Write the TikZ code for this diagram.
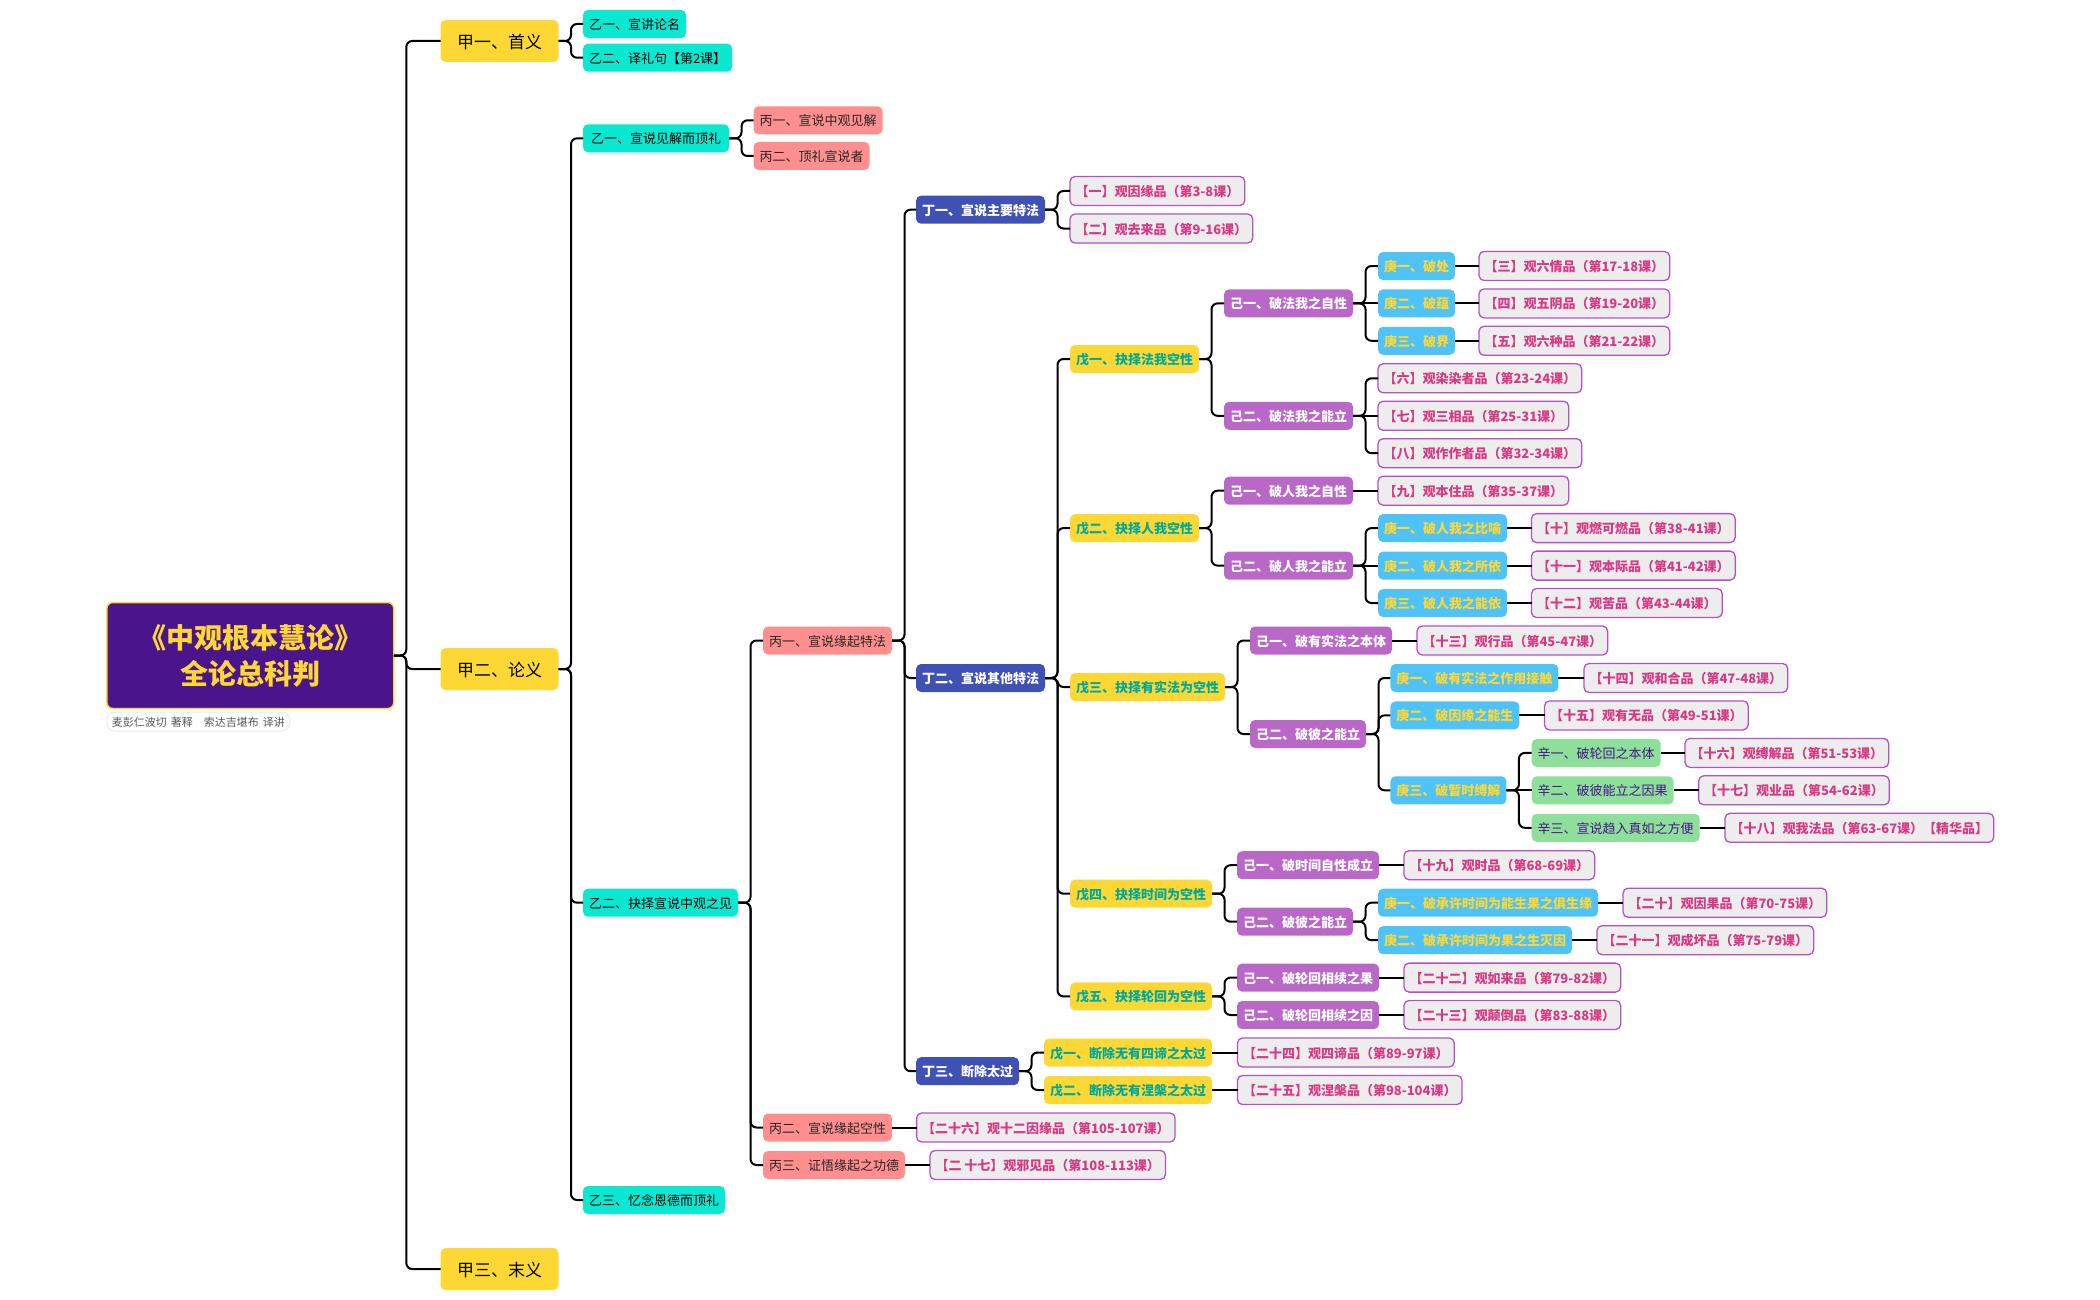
\documentclass[tikz,border=0pt]{standalone}
\usepackage{fontspec}
\setmainfont{Noto Sans CJK SC}
\definecolor{rootbg}{HTML}{4A148C}
\definecolor{gold}{HTML}{FDD835}
\definecolor{aqua}{HTML}{0BE8D2}
\definecolor{salmon}{HTML}{FF8F8F}
\definecolor{indigo}{HTML}{3F51B5}
\definecolor{violet}{HTML}{BA68C8}
\definecolor{sky}{HTML}{4FC3F7}
\definecolor{mint}{HTML}{8EDF99}
\definecolor{teal}{HTML}{00A99D}
\definecolor{leafline}{HTML}{B650C4}
\definecolor{leafink}{HTML}{D63A85}
\tikzset{
  item/.style={anchor=west, rounded corners=5pt, inner xsep=6pt, inner ysep=0pt, outer sep=0pt,
    minimum height=28pt, text height=12.5pt, text depth=1.5pt, font=\fontsize{13}{13}\selectfont},
  jia/.style={item, fill=gold, inner xsep=16.5pt, minimum height=42pt,
    text height=16pt, text depth=1pt, font=\fontsize{17}{17}\selectfont},
  yi/.style={item, fill=aqua},
  bing/.style={item, fill=salmon, text=black!85},
  ding/.style={item, fill=indigo, text=white, font=\fontsize{13}{13}\selectfont\bfseries},
  wu/.style={item, fill=gold, text=teal, font=\fontsize{13}{13}\selectfont\bfseries},
  ji/.style={item, fill=violet, text=white, font=\fontsize{13}{13}\selectfont\bfseries},
  geng/.style={item, fill=sky, text=gold, font=\fontsize{13}{13}\selectfont\bfseries},
  xin/.style={item, fill=mint, text=rootbg},
  pin/.style={item, fill=black!7, draw=leafline, line width=1.3pt, text=leafink, inner xsep=5.5pt, minimum height=29pt,
    font=\fontsize{13}{13}\selectfont\bfseries},
  link/.style={line width=2pt, rounded corners=6pt},
  flat/.style={line width=2pt}
}
\begin{document}
\begin{tikzpicture}[x=1pt,y=-1pt]
\useasboundingbox (0,0) rectangle (2100,1300);
% root
\node[item, anchor=center, fill=rootbg, draw=gold, line width=1.5pt, rounded corners=6pt, text=gold, align=center,
  minimum width=287pt, minimum height=106pt, text height=, text depth=, font=\fontsize{28}{36}\selectfont\bfseries]
  (root) at (250.3,655.5) {《中观根本慧论》\\全论总科判};
\node[item, fill=white, draw=black!8, line width=1pt, rounded corners=8pt, inner xsep=5pt, minimum height=19pt,
  text=black!65, text height=10pt, text depth=1pt, font=\fontsize{11}{11}\selectfont]
  (sub) at (106.8,721.5) {麦彭仁波切\hspace{4pt}著释\hspace{11pt}索达吉堪布\hspace{4pt}译讲};
% jia
\node[jia] (jia1) at (440.5,41) {甲一、首义};
\node[jia] (jia2) at (440.5,669) {甲二、论义};
\node[jia] (jia3) at (440.5,1269) {甲三、末义};
% yi
\node[yi] (yi11) at (583,24) {乙一、宣讲论名};
\node[yi] (yi12) at (583,57.7) {乙二、译礼句【第2课】};
\node[yi, minimum width=146pt] (yi21) at (583,138.3) {乙一、宣说见解而顶礼};
\node[yi] (yi22) at (583,902.7) {乙二、抉择宣说中观之见};
\node[yi] (yi23) at (583,1200) {乙三、忆念恩德而顶礼};
% bing
\node[bing] (bing1) at (753.5,120.3) {丙一、宣说中观见解};
\node[bing] (bing2) at (753.5,156) {丙二、顶礼宣说者};
\node[bing] (bing3) at (763,640.5) {丙一、宣说缘起特法};
\node[bing] (bing4) at (763,1127.5) {丙二、宣说缘起空性};
\node[bing] (bing5) at (763,1165) {丙三、证悟缘起之功德};
% ding
\node[ding] (ding1) at (916,209.7) {丁一、宣说主要特法};
\node[ding] (ding2) at (916,678) {丁二、宣说其他特法};
\node[ding] (ding3) at (916,1071.2) {丁三、断除太过};
% wu
\node[wu] (wu1) at (1070,359) {戊一、抉择法我空性};
\node[wu] (wu2) at (1070,528.1) {戊二、抉择人我空性};
\node[wu] (wu3) at (1070,687) {戊三、抉择有实法为空性};
\node[wu] (wu4) at (1070,893.7) {戊四、抉择时间为空性};
\node[wu] (wu5) at (1070,996.4) {戊五、抉择轮回为空性};
\node[wu] (wu6) at (1044,1052.5) {戊一、断除无有四谛之太过};
\node[wu] (wu7) at (1044,1090) {戊二、断除无有涅槃之太过};
% ji
\node[ji] (ji1) at (1224,303.4) {己一、破法我之自性};
\node[ji] (ji2) at (1224,415.8) {己二、破法我之能立};
\node[ji] (ji3) at (1224,490.7) {己一、破人我之自性};
\node[ji] (ji4) at (1224,565.6) {己二、破人我之能立};
\node[ji] (ji5) at (1250,640.5) {己一、破有实法之本体};
\node[ji] (ji6) at (1250,734) {己二、破彼之能立};
\node[ji] (ji7) at (1237,865.2) {己一、破时间自性成立};
\node[ji] (ji8) at (1237,921.7) {己二、破彼之能立};
\node[ji] (ji9) at (1237,977.6) {己一、破轮回相续之果};
\node[ji] (ji10) at (1237,1015) {己二、破轮回相续之因};
% geng
\node[geng] (geng1) at (1378,266) {庚一、破处};
\node[geng] (geng2) at (1378,303.4) {庚二、破蕴};
\node[geng] (geng3) at (1378,340.8) {庚三、破界};
\node[geng] (geng4) at (1378,528.1) {庚一、破人我之比喻};
\node[geng] (geng5) at (1378,565.6) {庚二、破人我之所依};
\node[geng] (geng6) at (1378,603) {庚三、破人我之能依};
\node[geng] (geng7) at (1390.4,678) {庚一、破有实法之作用接触};
\node[geng] (geng8) at (1390.4,715.4) {庚二、破因缘之能生};
\node[geng] (geng9) at (1390.4,790.3) {庚三、破暂时缚解};
\node[geng] (geng10) at (1378,902.7) {庚一、破承许时间为能生果之俱生缘};
\node[geng] (geng11) at (1378,940.2) {庚二、破承许时间为果之生灭因};
% xin
\node[xin] (xin1) at (1531.7,752.9) {辛一、破轮回之本体};
\node[xin] (xin2) at (1531.7,790.3) {辛二、破彼能立之因果};
\node[xin] (xin3) at (1531.7,827.8) {辛三、宣说趋入真如之方便};
% pin
\node[pin] (pin1) at (1070,191) {【一】观因缘品（第3-8课）};
\node[pin] (pin2) at (1070,228.5) {【二】观去来品（第9-16课）};
\node[pin] (pin3) at (1479,266) {【三】观六情品（第17-18课）};
\node[pin] (pin4) at (1479,303.4) {【四】观五阴品（第19-20课）};
\node[pin] (pin5) at (1479,340.8) {【五】观六种品（第21-22课）};
\node[pin] (pin6) at (1378,378.3) {【六】观染染者品（第23-24课）};
\node[pin] (pin7) at (1378,415.8) {【七】观三相品（第25-31课）};
\node[pin] (pin8) at (1378,453.2) {【八】观作作者品（第32-34课）};
\node[pin] (pin9) at (1378,490.7) {【九】观本住品（第35-37课）};
\node[pin] (pin10) at (1531.5,528.1) {【十】观燃可燃品（第38-41课）};
\node[pin] (pin11) at (1531.5,565.6) {【十一】观本际品（第41-42课）};
\node[pin] (pin12) at (1531.5,603) {【十二】观苦品（第43-44课）};
\node[pin] (pin13) at (1417,640.5) {【十三】观行品（第45-47课）};
\node[pin] (pin14) at (1584,678) {【十四】观和合品（第47-48课）};
\node[pin] (pin15) at (1544.5,715.4) {【十五】观有无品（第49-51课）};
\node[pin] (pin16) at (1685,752.9) {【十六】观缚解品（第51-53课）};
\node[pin] (pin17) at (1698.6,790.3) {【十七】观业品（第54-62课）};
\node[pin] (pin18) at (1725,827.8) {【十八】观我法品（第63-67课）【精华品】};
\node[pin] (pin19) at (1404,865.2) {【十九】观时品（第68-69课）};
\node[pin] (pin20) at (1623,902.7) {【二十】观因果品（第70-75课）};
\node[pin] (pin21) at (1597,940.2) {【二十一】观成坏品（第75-79课）};
\node[pin] (pin22) at (1404,977.6) {【二十二】观如来品（第79-82课）};
\node[pin] (pin23) at (1404,1015) {【二十三】观颠倒品（第83-88课）};
\node[pin] (pin24) at (1237.5,1052.5) {【二十四】观四谛品（第89-97课）};
\node[pin] (pin25) at (1237.5,1090) {【二十五】观涅槃品（第98-104课）};
\node[pin] (pin26) at (916.6,1127.5) {【二十六】观十二因缘品（第105-107课）};
\node[pin] (pin27) at (930,1165) {【二 十七】观邪见品（第108-113课）};
% links
\foreach \a/\b in {root/jia1,root/jia2,root/jia3,
  jia1/yi11,jia1/yi12,jia2/yi21,jia2/yi22,jia2/yi23,
  yi21/bing1,yi21/bing2,yi22/bing3,yi22/bing4,yi22/bing5,
  bing3/ding1,bing3/ding2,bing3/ding3,
  ding1/pin1,ding1/pin2,ding2/wu1,ding2/wu2,ding2/wu3,ding2/wu4,ding2/wu5,ding3/wu6,ding3/wu7,
  wu1/ji1,wu1/ji2,wu2/ji3,wu2/ji4,wu3/ji5,wu3/ji6,wu4/ji7,wu4/ji8,wu5/ji9,wu5/ji10,
  ji1/geng1,ji1/geng3,ji2/pin6,ji2/pin8,
  ji4/geng4,ji4/geng6,ji6/geng7,ji6/geng8,ji6/geng9,
  ji8/geng10,ji8/geng11,
  geng9/xin1,geng9/xin3}{
  \draw[link] (\a.east) -- ++(12.5,0) |- (\b.west);
}
% straight ones
\foreach \a/\b in {ji1/geng2,ji2/pin7,ji3/pin9,ji4/geng5,ji5/pin13,ji7/pin19,ji9/pin22,ji10/pin23,
  geng1/pin3,geng2/pin4,geng3/pin5,geng4/pin10,geng5/pin11,geng6/pin12,
  geng7/pin14,geng8/pin15,geng9/xin2,geng10/pin20,geng11/pin21,
  xin1/pin16,xin2/pin17,xin3/pin18,wu6/pin24,wu7/pin25,bing4/pin26,bing5/pin27}{
  \draw[flat] (\a.east) -- (\b.west);
}
\end{tikzpicture}
\end{document}
